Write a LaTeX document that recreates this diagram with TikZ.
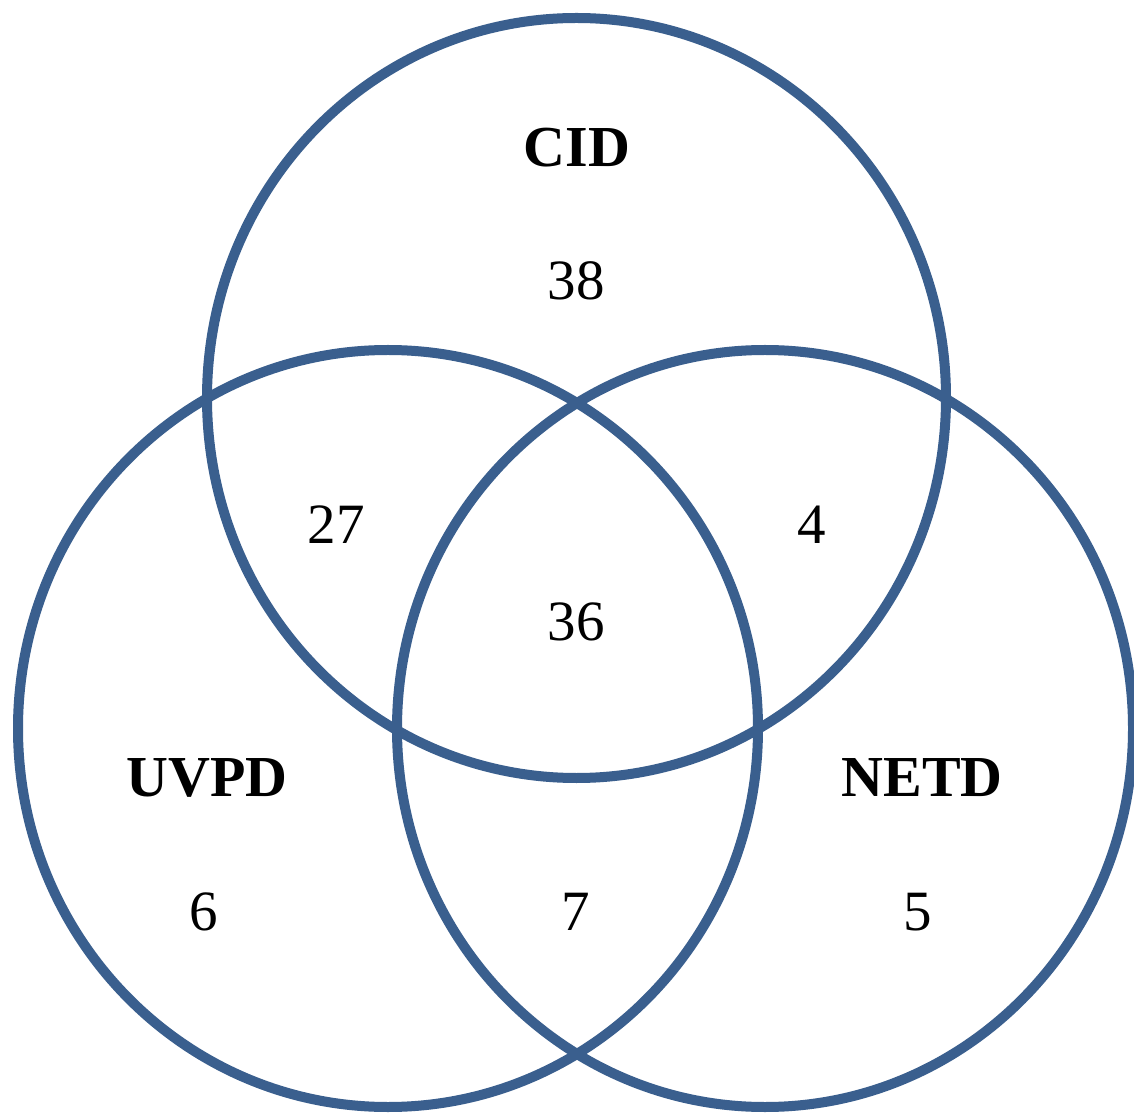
\documentclass[tikz,border=0pt]{standalone}
\usepackage{fontspec}
\setmainfont{Liberation Serif}
\definecolor{vennblue}{HTML}{3A5F8E}
\begin{document}
\begin{tikzpicture}[x=1pt,y=1pt,
  venn/.style={draw=vennblue,line width=10pt},
  num/.style={font=\fontsize{57}{60}\selectfont,inner sep=0pt,anchor=center},
  lab/.style={font=\fontsize{58}{60}\selectfont\bfseries,inner sep=0pt,anchor=center}]
\useasboundingbox (0,0) rectangle (1134,1112);
\fill[white] (0,0) rectangle (1134,1112);
\draw[venn] (576.5,714) ellipse [x radius=369.5, y radius=380];
\draw[venn] (388,383.5) ellipse [x radius=370, y radius=378.5];
\draw[venn] (765,383.5) ellipse [x radius=368, y radius=378.5];
\node[lab] (cid) at (577,964) {CID};
\node[lab] (uvpd) at (207,334) {UVPD};
\node[lab] (netd) at (922,334) {NETD};
\node[num] (n38) at (576,831) {38};
\node[num] (n27) at (336,587) {27};
\node[num] (n4) at (812,587) {4};
\node[num] (n36) at (576,490) {36};
\node[num] (n6) at (204,200) {6};
\node[num] (n7) at (576,200) {7};
\node[num] (n5) at (918,200) {5};
\end{tikzpicture}
\end{document}
